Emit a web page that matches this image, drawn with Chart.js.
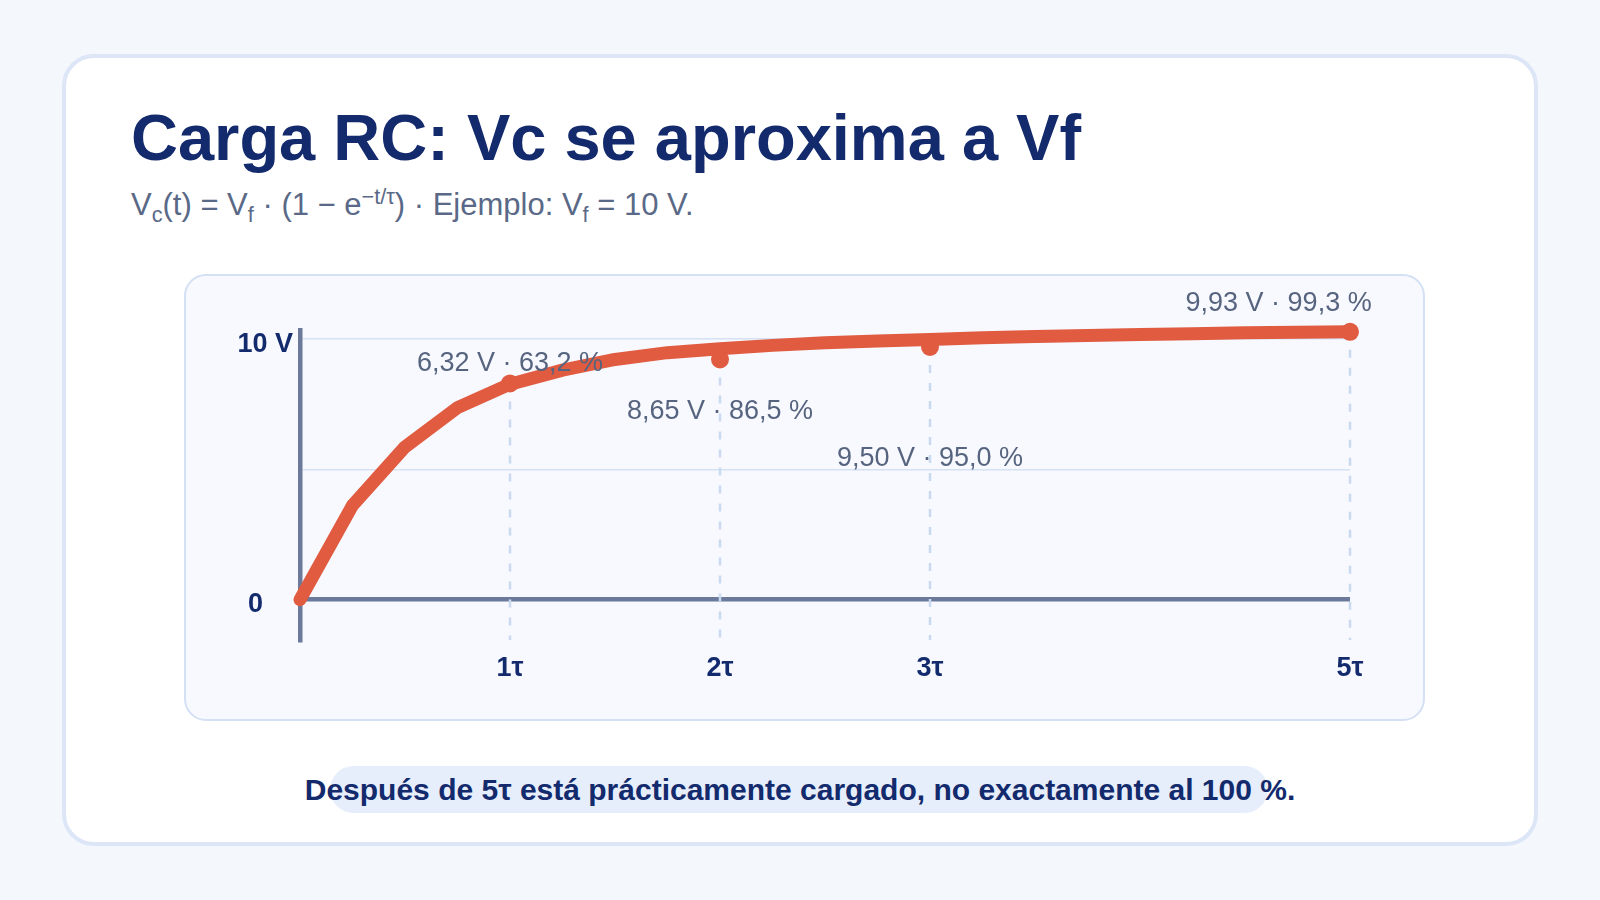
<!DOCTYPE html>
<html lang="es">
<head>
<meta charset="utf-8">
<script src="https://cdn.jsdelivr.net/npm/chart.js@4/dist/chart.umd.min.js"></script>
<style>
  html, body { margin: 0; padding: 0; }
  body { width: 1600px; height: 900px; background: #f4f7fc; position: relative; overflow: hidden;
         font-family: Arial, "Liberation Sans", Helvetica, sans-serif; }
  .card { position: absolute; left: 62px; top: 54px; width: 1468px; height: 784px;
          background: #ffffff; border: 4px solid #dce6f6; border-radius: 32px; }
  .title { position: absolute; left: 131px; top: 106px; margin: 0; font-size: 65px; line-height: 64px;
           font-weight: 700; color: #132a6d; white-space: nowrap; }
  .subtitle { position: absolute; left: 131px; top: 190px; margin: 0; font-size: 31px; line-height: 30px;
              color: #5a6987; white-space: nowrap; }
  .subtitle sub, .subtitle sup { font-size: 0.7em; line-height: 0; }
  .panel { position: absolute; left: 184px; top: 274px; width: 1237px; height: 443px;
           background: #f7f9fe; border: 2px solid #d4e1f5; border-radius: 22px; }
  #chartWrap { position: absolute; left: 184px; top: 274px; width: 1241px; height: 447px; }
  .pill { position: absolute; left: 330px; top: 766px; width: 938px; height: 47px;
          background: #e6eefc; border-radius: 24px; }
  .footer { position: absolute; left: 0; width: 1600px; top: 775px; text-align: center; margin: 0;
            font-size: 30px; line-height: 30px; font-weight: 700; color: #132a6d; white-space: nowrap; }
</style>
</head>
<body>
<div class="card"></div>
<h1 class="title">Carga RC: Vc se aproxima a Vf</h1>
<p class="subtitle">V<sub>c</sub>(t) = V<sub>f</sub> · (1 − e<sup>−t/τ</sup>) · Ejemplo: V<sub>f</sub> = 10 V.</p>
<div class="panel"></div>
<div id="chartWrap"><canvas id="c" width="1241" height="447" style="width:1241px;height:447px"></canvas></div>
<div class="pill"></div>
<p class="footer">Después de 5τ está prácticamente cargado, no exactamente al 100 %.</p>

<script>
// ---- data ----
const curveT = [0, 0.25, 0.5, 0.75, 1, 1.25, 1.5, 1.75, 2, 2.25, 2.5, 2.75, 3, 3.25, 3.5, 3.75, 4, 4.25, 4.5, 4.75, 5];
const curveV = [0, 3.62, 5.86, 7.37, 8.27, 8.81, 9.22, 9.48, 9.63, 9.76, 9.86, 9.93, 9.99, 10.05, 10.10, 10.14, 10.18, 10.21, 10.24, 10.26, 10.28];
const markT = [1, 2, 3, 5];
const markV = [8.30, 9.22, 9.70, 10.28];
const markLabels = ['6,32 V · 63,2 %', '8,65 V · 86,5 %', '9,50 V · 95,0 %', '9,93 V · 99,3 %'];
const labelT = [1, 2, 3, 4.66];
const labelV = [9.1, 7.25, 5.45, 11.42];
const xTickValues = [1, 2, 3, 5];
const xTickLabels = ['1τ', '2τ', '3τ', '5τ'];
const yTickValues = [0, 5, 10];
const yTickLabels = ['0    ', '', '10 V'];

const FONT = 'Arial, "Liberation Sans", Helvetica, sans-serif';
const NAVY = '#132a6d';
const ORANGE = '#e05b40';
const AXIS = '#6b7a9a';
const GRID = '#d6e2f3';

const guides = {
  id: 'guides',
  beforeDatasetsDraw(chart) {
    const { ctx, chartArea, scales: { x, y } } = chart;
    ctx.save();
    ctx.strokeStyle = '#c9d9f0';
    ctx.lineWidth = 2.5;
    ctx.setLineDash([8, 10]);
    markT.forEach((t, i) => {
      const px = x.getPixelForValue(t);
      ctx.beginPath();
      ctx.moveTo(px, y.getPixelForValue(markV[i]));
      ctx.lineTo(px, chartArea.bottom);
      ctx.stroke();
    });
    ctx.restore();
  },
  afterDatasetsDraw(chart) {
    const { ctx, scales: { x, y } } = chart;
    ctx.save();
    ctx.font = '27px ' + FONT;
    ctx.fillStyle = '#56647f';
    ctx.textAlign = 'center';
    ctx.textBaseline = 'middle';
    markLabels.forEach((txt, i) => {
      ctx.fillText(txt, x.getPixelForValue(labelT[i]), y.getPixelForValue(labelV[i]) + 1);
    });
    ctx.restore();
  }
};

new Chart(document.getElementById('c'), {
  type: 'line',
  data: {
    datasets: [
      {
        label: 'Vc',
        data: curveT.map((t, i) => ({ x: t, y: curveV[i] })),
        borderColor: ORANGE,
        borderWidth: 13,
        borderCapStyle: 'round',
        borderJoinStyle: 'round',
        pointRadius: 0,
        tension: 0,
        fill: false,
        clip: false,
        order: 2
      },
      {
        label: 'τ',
        data: markT.map((t, i) => ({ x: t, y: markV[i] })),
        showLine: false,
        pointRadius: 9,
        pointHoverRadius: 9,
        pointBackgroundColor: ORANGE,
        pointBorderWidth: 0,
        borderColor: ORANGE,
        clip: false,
        order: 1
      }
    ]
  },
  options: {
    responsive: false,
    devicePixelRatio: 1,
    animation: false,
    events: [],
    layout: { padding: { top: 56, right: 75, left: 0, bottom: 0 } },
    plugins: { legend: { display: false }, tooltip: { enabled: false }, title: { display: false } },
    scales: {
      x: {
        type: 'linear',
        min: 0,
        max: 5,
        afterBuildTicks: s => { s.ticks = xTickValues.map(v => ({ value: v })); },
        afterFit: s => { s.height = 81; },
        grid: { display: false, drawTicks: false },
        border: { display: false },
        ticks: {
          padding: 12,
          autoSkip: false,
          maxRotation: 0,
          color: NAVY,
          font: { family: FONT, size: 27, weight: 'bold' },
          callback: v => xTickLabels[xTickValues.indexOf(v)] ?? ''
        }
      },
      y: {
        type: 'linear',
        min: -1.55,
        max: 10.35,
        afterBuildTicks: s => { s.ticks = yTickValues.map(v => ({ value: v })); },
        afterFit: s => { s.width = 116; },
        grid: {
          drawTicks: false,
          color: c => (c.tick && c.tick.value === 0 ? AXIS : GRID),
          lineWidth: c => (c.tick && c.tick.value === 0 ? 4.5 : 1.5)
        },
        border: { display: true, color: AXIS, width: 4.5 },
        ticks: {
          padding: 7,
          labelOffset: 5,
          color: NAVY,
          font: { family: FONT, size: 27, weight: 'bold' },
          callback: v => yTickLabels[yTickValues.indexOf(v)] ?? ''
        }
      }
    }
  },
  plugins: [guides]
});
</script>
</body>
</html>
